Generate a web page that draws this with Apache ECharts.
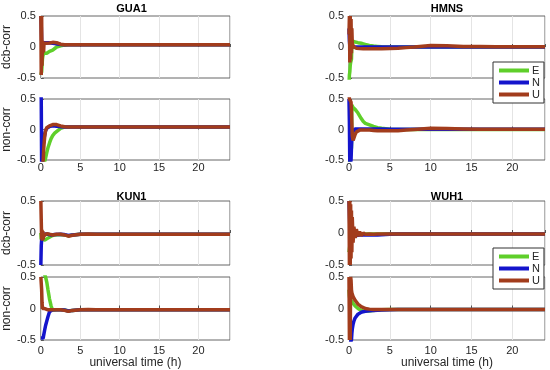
<!DOCTYPE html>
<html>
<head>
<meta charset="utf-8">
<script src="https://cdn.jsdelivr.net/npm/echarts@6/dist/echarts.min.js"></script>
<style>html,body{margin:0;padding:0;background:#fff}#c{width:550px;height:370px}</style>
</head>
<body>
<div id="c"></div>
<script>
// time samples (h)
const T = [0, 0.05, 0.1, 0.15, 0.2, 0.25, 0.3, 0.35, 0.4, 0.5, 0.6, 0.75, 0.9, 1.1, 1.3, 1.5, 1.75, 2, 2.5, 3, 3.5, 4, 5, 6, 7, 8, 10, 12, 14, 16, 18, 20, 22, 24];
const stations = ['GUA1', 'HMNS', 'KUN1', 'WUH1'];
const rowNames = ['dcb-corr', 'non-corr'];
const seriesNames = ['E', 'N', 'U'];
const xTicks = [0, 5, 10, 15, 20];
const yTicks = [-0.5, 0, 0.5];

// GUA1
const GUA1_dcb_E = [-0.45,-0.48,-0.4,-0.3,-0.2,-0.15,-0.12,-0.1,-0.11,-0.1,-0.1,-0.1,-0.09,-0.07,-0.05,-0.05,-0.03,0.0,0.02,0.03,0.035,0.035,0.035,0.035,0.035,0.035,0.035,0.035,0.035,0.035,0.035,0.035,0.035,0.035];
const GUA1_dcb_N = [0.5,0.35,0.1,0.05,0.06,0.07,0.07,0.07,0.07,0.07,0.07,0.07,0.07,0.07,0.065,0.06,0.055,0.05,0.04,0.035,0.035,0.035,0.035,0.035,0.035,0.035,0.035,0.035,0.035,0.035,0.035,0.035,0.035,0.035];
const GUA1_dcb_U = [0.5,-0.45,0.5,-0.3,0.1,-0.1,0.08,-0.08,0.06,0.06,0.06,0.06,0.06,0.065,0.07,0.075,0.075,0.07,0.045,0.035,0.035,0.035,0.035,0.035,0.035,0.035,0.035,0.035,0.035,0.035,0.035,0.035,0.035,0.035];
const GUA1_non_E = [-0.6,-0.6,-0.6,-0.6,-0.6,-0.6,-0.6,-0.6,-0.6,-0.6,-0.47,-0.38,-0.3,-0.22,-0.15,-0.1,-0.06,-0.03,0.02,0.04,0.04,0.04,0.04,0.04,0.04,0.04,0.04,0.04,0.04,0.04,0.04,0.04,0.04,0.04];
const GUA1_non_N = [0.6,0.5,-0.6,-0.5,-0.4,-0.3,-0.25,-0.2,-0.15,-0.08,-0.02,0.02,0.04,0.05,0.055,0.06,0.06,0.055,0.045,0.04,0.04,0.04,0.04,0.04,0.04,0.04,0.04,0.04,0.04,0.04,0.04,0.04,0.04,0.04];
const GUA1_non_U = [-0.6,-0.6,-0.6,-0.6,-0.6,-0.55,-0.5,-0.35,-0.25,-0.1,-0.02,0.03,0.05,0.06,0.07,0.08,0.08,0.08,0.06,0.045,0.04,0.04,0.04,0.04,0.04,0.04,0.04,0.04,0.04,0.04,0.04,0.04,0.04,0.04];
// HMNS
const HMNS_dcb_E = [-0.6,-0.45,-0.4,-0.3,-0.25,-0.25,-0.2,0.05,0.1,0.1,0.09,0.08,0.07,0.07,0.065,0.06,0.05,0.04,0.025,0.015,0.01,0.005,0,0,0,0,0,0,0,0,0,0,0,0];
const HMNS_dcb_N = [0.3,0.1,0.02,0,0,0,0,0,0,0,0,0,0,0,0,0,0,0,0,0,0,0,0,0,0,0,0,0,0,0,0,0,0,0];
const HMNS_dcb_U = [0.2,0.5,-0.25,0.5,-0.2,0.45,-0.1,0.3,0.05,0.03,0.0,-0.02,-0.02,-0.02,-0.025,-0.03,-0.03,-0.03,-0.03,-0.03,-0.03,-0.03,-0.025,-0.02,-0.01,0.0,0.025,0.02,0.01,0.01,0.005,0.005,0.005,0.005];
const HMNS_non_E = [-0.6,-0.6,-0.6,-0.6,-0.6,-0.6,-0.3,0.4,0.38,0.36,0.35,0.33,0.3,0.27,0.24,0.18,0.13,0.1,0.075,0.05,0.03,0.02,0.005,0,0,0,0,0,0,0,0,0,0,0];
const HMNS_non_N = [0.5,0.1,-0.6,-0.6,-0.6,-0.5,-0.3,-0.15,-0.08,-0.03,0,0.01,0.01,0.01,0.01,0.01,0.01,0.01,0.01,0.01,0.01,0.01,0.005,0.005,0.005,0.005,0.005,0.005,0.005,0.005,0.005,0.005,0.005,0.005];
const HMNS_non_U = [0.6,0.5,0.5,0.5,0.5,0.45,0.3,0.1,-0.1,-0.18,-0.15,-0.08,-0.04,-0.02,-0.01,-0.01,-0.01,-0.01,-0.01,-0.015,-0.02,-0.02,-0.02,-0.02,-0.01,0,0.02,0.015,0.01,0.005,0.005,0.005,0.005,0.005];
// KUN1
const KUN1_dcb_E = [0.0,-0.1,-0.05,-0.08,-0.1,-0.1,-0.1,-0.1,-0.1,-0.11,-0.12,-0.1,-0.08,-0.06,-0.05,-0.04,-0.03,-0.03,-0.025,-0.03,-0.045,-0.03,-0.02,-0.02,-0.02,-0.02,-0.02,-0.02,-0.02,-0.02,-0.02,-0.02,-0.02,-0.02];
const KUN1_dcb_N = [-0.5,-0.2,-0.1,-0.05,-0.03,-0.02,-0.02,-0.02,-0.02,-0.015,-0.01,-0.01,-0.02,-0.03,-0.03,-0.03,-0.025,-0.02,-0.02,-0.025,-0.04,-0.03,-0.02,-0.02,-0.02,-0.02,-0.02,-0.02,-0.02,-0.02,-0.02,-0.02,-0.02,-0.02];
const KUN1_dcb_U = [0.5,0.2,-0.1,0.05,-0.12,0.03,-0.1,-0.05,-0.08,-0.02,-0.03,-0.01,-0.02,-0.02,-0.02,-0.03,-0.02,-0.02,-0.02,-0.03,-0.05,-0.035,-0.02,-0.015,-0.02,-0.02,-0.02,-0.02,-0.02,-0.02,-0.02,-0.02,-0.02,-0.02];
const KUN1_non_E = [0.6,0.6,0.6,0.6,0.6,0.6,0.6,0.6,0.6,0.6,0.5,0.42,0.3,0.15,0.04,-0.03,-0.02,-0.02,-0.02,-0.025,-0.04,-0.03,-0.02,-0.02,-0.02,-0.02,-0.02,-0.02,-0.02,-0.02,-0.02,-0.02,-0.02,-0.02];
const KUN1_non_N = [-0.47,-0.47,-0.47,-0.47,-0.47,-0.47,-0.47,-0.43,-0.4,-0.33,-0.27,-0.2,-0.13,-0.05,-0.02,-0.02,-0.02,-0.02,-0.02,-0.025,-0.04,-0.03,-0.02,-0.02,-0.02,-0.02,-0.02,-0.02,-0.02,-0.02,-0.02,-0.02,-0.02,-0.02];
const KUN1_non_U = [0.5,0.5,0.3,0.1,0.0,0.0,0.0,0.0,0.0,0.0,-0.01,-0.02,-0.02,-0.02,-0.02,-0.02,-0.02,-0.02,-0.02,-0.03,-0.045,-0.03,-0.02,-0.015,-0.02,-0.02,-0.02,-0.02,-0.02,-0.02,-0.02,-0.02,-0.02,-0.02];
// WUH1
const WUH1_dcb_E = [-0.3,-0.25,-0.2,-0.15,-0.1,-0.08,-0.05,-0.03,-0.02,-0.02,-0.02,-0.015,-0.015,-0.015,-0.015,-0.015,-0.015,-0.015,-0.015,-0.015,-0.015,-0.015,-0.015,-0.015,-0.015,-0.015,-0.015,-0.015,-0.015,-0.015,-0.015,-0.015,-0.015,-0.015];
const WUH1_dcb_N = [0.5,0.3,0.1,0.0,-0.05,-0.1,-0.05,-0.05,-0.06,-0.05,-0.04,-0.04,-0.04,-0.035,-0.03,-0.03,-0.03,-0.03,-0.03,-0.03,-0.03,-0.028,-0.02,-0.015,-0.015,-0.015,-0.015,-0.015,-0.015,-0.015,-0.015,-0.015,-0.015,-0.015];
const WUH1_dcb_U = [0.5,-0.5,0.5,-0.5,0.45,-0.4,0.35,-0.3,0.25,-0.15,0.1,-0.08,0.06,-0.05,0.02,-0.04,0.0,-0.02,-0.015,-0.02,-0.015,-0.015,-0.015,-0.015,-0.015,-0.015,-0.015,-0.015,-0.015,-0.015,-0.015,-0.015,-0.015,-0.015];
const WUH1_non_E = [0.3,0.2,0.15,0.12,0.12,0.12,0.12,0.12,0.1,0.08,0.06,0.04,0.02,0.0,-0.02,-0.03,-0.04,-0.04,-0.04,-0.03,-0.025,-0.02,-0.016,-0.016,-0.016,-0.016,-0.016,-0.016,-0.016,-0.016,-0.016,-0.016,-0.016,-0.016];
const WUH1_non_N = [-0.6,-0.6,-0.6,-0.6,-0.6,-0.6,-0.5,-0.4,-0.33,-0.25,-0.2,-0.15,-0.12,-0.09,-0.07,-0.06,-0.05,-0.045,-0.035,-0.03,-0.028,-0.025,-0.02,-0.016,-0.016,-0.016,-0.016,-0.016,-0.016,-0.016,-0.016,-0.016,-0.016,-0.016];
const WUH1_non_U = [0.5,-0.5,0.5,-0.5,0.5,0.45,0.3,0.25,0.22,0.19,0.16,0.13,0.1,0.07,0.04,0.03,0.015,0.0,-0.01,-0.015,-0.016,-0.016,-0.016,-0.016,-0.016,-0.016,-0.016,-0.016,-0.016,-0.016,-0.016,-0.016,-0.016,-0.016];

const DATA = {
  GUA1: [[GUA1_dcb_E, GUA1_dcb_N, GUA1_dcb_U], [GUA1_non_E, GUA1_non_N, GUA1_non_U]],
  HMNS: [[HMNS_dcb_E, HMNS_dcb_N, HMNS_dcb_U], [HMNS_non_E, HMNS_non_N, HMNS_non_U]],
  KUN1: [[KUN1_dcb_E, KUN1_dcb_N, KUN1_dcb_U], [KUN1_non_E, KUN1_non_N, KUN1_non_U]],
  WUH1: [[WUH1_dcb_E, WUH1_dcb_N, WUH1_dcb_U], [WUH1_non_E, WUH1_non_N, WUH1_non_U]]
};

const COLORS = ['#5fcf2a', '#1414cc', '#a23c1c'];
const TXT = '#262626';
const FONT = 'Liberation Sans, Arial, Helvetica, sans-serif';

// layout
const colLeft = [33, 349], colWidth = [197, 196];
const rowTop = [[16, 99], [201, 277]], rowHeight = [[62, 61], [64, 63]];

const grids = [], xAxes = [], yAxes = [], series = [], titles = [];
stations.forEach((st, si) => {
  const col = si % 2, prow = Math.floor(si / 2);
  titles.push({
    text: st, left: colLeft[col] + colWidth[col] / 2, textAlign: 'center',
    top: prow === 0 ? 3 : 191, padding: 0,
    textStyle: {fontFamily: FONT, fontSize: 11, fontWeight: 'bold', color: '#000'}
  });
  [0, 1].forEach(r => {
    const gi = grids.length;
    grids.push({left: colLeft[col], width: colWidth[col], top: rowTop[prow][r], height: rowHeight[prow][r],
      show: true, borderColor: '#666', borderWidth: 1, backgroundColor: '#fff', containLabel: false});
    const isBottom = r === 1;
    xAxes.push({
      type: 'value', gridIndex: gi, min: 0, max: 24, interval: 5,
      axisLine: {show: false},
      axisTick: {show: true, inside: true, length: 3, lineStyle: {color: '#555'}},
      splitLine: {show: true, lineStyle: {color: '#e4e4e4', width: 1}},
      axisLabel: {show: isBottom, showMaxLabel: false, color: TXT, fontFamily: FONT, fontSize: 11, margin: prow === 0 ? 2 : 5},
      name: (isBottom && prow === 1) ? 'universal time (h)' : '',
      nameLocation: 'middle', nameGap: 14,
      nameTextStyle: {color: TXT, fontFamily: FONT, fontSize: 12}
    });
    yAxes.push({
      type: 'value', gridIndex: gi, min: -0.5, max: 0.5, interval: 0.5,
      axisLine: {show: false},
      axisTick: {show: true, inside: true, length: 3, lineStyle: {color: '#555'}},
      splitLine: {show: false},
      axisLabel: {color: TXT, fontFamily: FONT, fontSize: 11, margin: 5},
      name: col === 0 ? rowNames[r] : '',
      nameLocation: 'middle', nameGap: 18, nameRotate: 90,
      nameTextStyle: {color: TXT, fontFamily: FONT, fontSize: 12}
    });
    DATA[st][r].forEach((vals, k) => {
      series.push({
        name: seriesNames[k], type: 'line', xAxisIndex: gi, yAxisIndex: gi,
        data: T.map((t, i) => [t, vals[i]]),
        showSymbol: false, symbol: 'none', clip: true, animation: false,
        lineStyle: {width: 3.5, color: COLORS[k]}, itemStyle: {color: COLORS[k]}
      });
    });
  });
});

const legendBase = {
  orient: 'vertical', data: seriesNames, selectedMode: false,
  icon: 'rect', itemWidth: 30, itemHeight: 4, itemGap: 1,
  borderColor: '#333', borderWidth: 1, backgroundColor: '#fff', padding: [3, 4, 3, 6],
  textStyle: {color: TXT, fontFamily: FONT, fontSize: 11, padding: [0, 0, 0, -2]}
};
const legends = [
  Object.assign({}, legendBase, {left: 493, top: 62}),
  Object.assign({}, legendBase, {left: 493, top: 248})
];

const chart = echarts.init(document.getElementById('c'), null, {renderer: 'canvas'});
chart.setOption({
  animation: false,
  backgroundColor: '#fff',
  title: titles,
  legend: legends,
  grid: grids, xAxis: xAxes, yAxis: yAxes, series: series
});
</script>
</body>
</html>
